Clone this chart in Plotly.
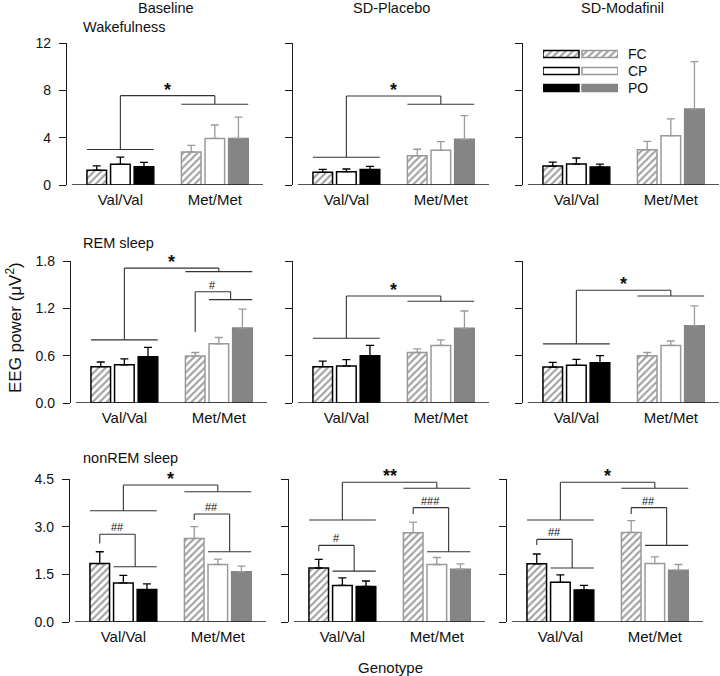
import plotly.graph_objects as go

W, H = 720, 676
FONT = "Liberation Sans, Arial, sans-serif"

# ---------------- data ----------------
COLUMN_TITLES = ["Baseline", "SD-Placebo", "SD-Modafinil"]
ROW_TITLES = ["Wakefulness", "REM sleep", "nonREM sleep"]
GENOTYPES = ["Val/Val", "Met/Met"]
REGIONS = ["FC", "CP", "PO"]

# order inside each list: Val/Val FC, CP, PO, Met/Met FC, CP, PO
wake_baseline_mean = [1.25, 1.75, 1.55, 2.79, 3.94, 3.94]
wake_baseline_sem = [0.36, 0.60, 0.37, 0.56, 1.13, 1.80]
wake_placebo_mean = [1.07, 1.13, 1.30, 2.48, 2.93, 3.86]
wake_placebo_sem = [0.25, 0.22, 0.28, 0.54, 0.73, 2.00]
wake_modafinil_mean = [1.60, 1.77, 1.52, 2.98, 4.17, 6.42]
wake_modafinil_sem = [0.34, 0.51, 0.25, 0.71, 1.41, 4.00]

rem_baseline_mean = [0.46, 0.485, 0.587, 0.595, 0.75, 0.95]
rem_baseline_sem = [0.06, 0.075, 0.118, 0.045, 0.08, 0.24]
rem_placebo_mean = [0.46, 0.47, 0.60, 0.64, 0.73, 0.946]
rem_placebo_sem = [0.07, 0.08, 0.13, 0.045, 0.07, 0.22]
rem_modafinil_mean = [0.456, 0.477, 0.51, 0.60, 0.73, 0.98]
rem_modafinil_sem = [0.06, 0.076, 0.09, 0.04, 0.056, 0.25]

nrem_baseline_mean = [1.84, 1.23, 1.02, 2.63, 1.81, 1.58]
nrem_baseline_sem = [0.37, 0.24, 0.18, 0.37, 0.17, 0.18]
nrem_placebo_mean = [1.70, 1.15, 1.12, 2.81, 1.81, 1.66]
nrem_placebo_sem = [0.27, 0.24, 0.17, 0.33, 0.22, 0.17]
nrem_modafinil_mean = [1.83, 1.25, 1.01, 2.82, 1.84, 1.63]
nrem_modafinil_sem = [0.31, 0.23, 0.14, 0.37, 0.21, 0.18]

Y_MAX = [12, 1.8, 4.5]
Y_TICKS = [[0, 4, 8, 12], [0, 0.6, 1.2, 1.8], [0, 1.5, 3.0, 4.5]]
Y_TICKFORMAT = ["d", ".1f", ".1f"]

# genotype brackets: [Val line level, top level, Met line level, label]
geno_wake_baseline = [3.0, 7.55, 6.82, "*"]
geno_wake_placebo = [2.34, 7.52, 6.82, "*"]
geno_wake_modafinil = None
geno_rem_baseline = [0.80, 1.71, 1.665, "*"]
geno_rem_placebo = [0.82, 1.356, 1.29, "*"]
geno_rem_modafinil = [0.75, 1.43, 1.356, "*"]
geno_nrem_baseline = [3.5, 4.31, 4.10, "*"]
geno_nrem_placebo = [3.21, 4.40, 4.21, "**"]
geno_nrem_modafinil = [3.21, 4.40, 4.21, "*"]

# region brackets (FC vs CP+PO): [genotype index, start, top, line level, label]
reg_rem_baseline = [[1, 0.90, 1.41, 1.31, "#"]]
reg_nrem_baseline = [[0, 2.47, 2.76, 1.74, "##"], [1, 3.21, 3.40, 2.21, "##"]]
reg_nrem_placebo = [[0, 2.23, 2.41, 1.60, "#"], [1, 3.40, 3.60, 2.21, "###"]]
reg_nrem_modafinil = [[0, 2.42, 2.60, 1.70, "##"], [1, 3.40, 3.60, 2.41, "##"]]

PANEL_MEANS = [[wake_baseline_mean, wake_placebo_mean, wake_modafinil_mean],
               [rem_baseline_mean, rem_placebo_mean, rem_modafinil_mean],
               [nrem_baseline_mean, nrem_placebo_mean, nrem_modafinil_mean]]
PANEL_SEMS = [[wake_baseline_sem, wake_placebo_sem, wake_modafinil_sem],
              [rem_baseline_sem, rem_placebo_sem, rem_modafinil_sem],
              [nrem_baseline_sem, nrem_placebo_sem, nrem_modafinil_sem]]
PANEL_GENO = [[geno_wake_baseline, geno_wake_placebo, geno_wake_modafinil],
              [geno_rem_baseline, geno_rem_placebo, geno_rem_modafinil],
              [geno_nrem_baseline, geno_nrem_placebo, geno_nrem_modafinil]]
PANEL_REG = [[[], [], []],
             [reg_rem_baseline, [], []],
             [reg_nrem_baseline, reg_nrem_placebo, reg_nrem_modafinil]]

# ---------------- layout geometry (px) ----------------
GROUP_POS = [[0, 1, 2], [4, 5, 6]]
BAR_WIDTH = 0.83
HALF = BAR_WIDTH / 2
X_RANGE = [-1.26, 7.04]
X_BASE_START = -1.05
PANEL_W = 196
AXIS_X = [[67, 293, 523], [71, 293, 523], [70, 289, 507]]
ROW_TOP = [43, 261, 479]
ROW_BOTTOM = [185, 403, 622]

AX_COLOR = "#1a1a1a"
BR_COLOR = "#333333"
GRAY_LINE = "#9a9a9a"
GRAY_FILL = "#858585"

VAL_FILL = ["white", "white", "black"]
VAL_LINE = ["black", "black", "black"]
MET_FILL = ["white", "white", GRAY_FILL]
MET_LINE = [GRAY_LINE, GRAY_LINE, GRAY_FILL]
PATTERN = ["/", "", ""]


def px_x(p):
    return p / W


def px_y(p):
    return 1 - p / H


fig = go.Figure()
shapes = []
annotations = []
layout = {}


def suffix(k):
    return "" if k == 1 else str(k)


def add_line(k, x0, y0, x1, y1, color=BR_COLOR, width=1.1):
    shapes.append(dict(type="line", xref="x" + suffix(k), yref="y" + suffix(k),
                       x0=x0, y0=y0, x1=x1, y1=y1, layer="above",
                       line=dict(color=color, width=width)))


def add_label(k, x, y, text, size, yshift):
    annotations.append(dict(xref="x" + suffix(k), yref="y" + suffix(k), x=x, y=y,
                            text=text, showarrow=False, xanchor="center",
                            yanchor="middle", yshift=yshift,
                            font=dict(family=FONT, size=size, color="#111")))


for r in range(3):
    for c in range(3):
        k = r * 3 + c + 1
        s = suffix(k)
        x0 = AXIS_X[r][c]
        xd = [px_x(x0), min(1.0, px_x(x0 + PANEL_W))]
        yd = [px_y(ROW_BOTTOM[r]), px_y(ROW_TOP[r])]
        means = PANEL_MEANS[r][c]
        sems = PANEL_SEMS[r][c]
        for g, (fills, lines, fg, ecol) in enumerate(
                [(VAL_FILL, VAL_LINE, "black", "black"),
                 (MET_FILL, MET_LINE, GRAY_LINE, GRAY_LINE)]):
            fig.add_trace(go.Bar(
                x=GROUP_POS[g], y=means[g * 3:(g + 1) * 3], width=BAR_WIDTH,
                xaxis="x" + s, yaxis="y" + s, showlegend=False, hoverinfo="skip",
                marker=dict(color=fills, line=dict(color=lines, width=1.5),
                            pattern=dict(shape=PATTERN, fgcolor=fg, bgcolor="white",
                                         size=5, solidity=0.42)),
                error_y=dict(type="data", array=sems[g * 3:(g + 1) * 3],
                             arrayminus=[0, 0, 0], symmetric=False,
                             color=ecol, thickness=1.3, width=4),
            ))
        layout["xaxis" + s] = dict(
            domain=xd, range=X_RANGE, anchor="y" + s, showline=False,
            showgrid=False, zeroline=False, automargin=False,
            tickvals=[sum(gp) / 3 for gp in GROUP_POS], ticktext=GENOTYPES,
            ticks="outside", ticklen=1, tickcolor="rgba(0,0,0,0)",
            tickfont=dict(family=FONT, size=15, color="#111"),
        )
        layout["yaxis" + s] = dict(
            domain=yd, range=[0, Y_MAX[r]], anchor="x" + s, showline=True,
            linecolor=AX_COLOR, linewidth=1.3, showgrid=False, zeroline=False,
            automargin=False,
            ticks="outside", ticklen=7, tickwidth=1.3, tickcolor=AX_COLOR,
            tickvals=Y_TICKS[r], tickformat=Y_TICKFORMAT[r],
            showticklabels=(c == 0), ticklabelstandoff=5,
            tickfont=dict(family=FONT, size=14, color="#111"),
        )
        # baseline
        add_line(k, X_BASE_START, 0, X_RANGE[1], 0, color=AX_COLOR, width=1.3)
        # genotype bracket
        gb = PANEL_GENO[r][c]
        if gb:
            v, top, m, lab = gb
            vp, mp = GROUP_POS
            vc, mc = sum(vp) / 3, sum(mp) / 3
            add_line(k, vp[0] - HALF, v, vp[2] + HALF, v)
            add_line(k, vc, v, vc, top)
            add_line(k, vc, top, mc, top)
            add_line(k, mc, top, mc, m)
            add_line(k, mp[0] - HALF, m, mp[2] + HALF, m)
            add_label(k, (vc + mc) / 2, top, "<b>" + lab + "</b>", 18, 6)
        for gi, st, top, lvl, lab in PANEL_REG[r][c]:
            p = GROUP_POS[gi]
            mid = (p[1] + p[2]) / 2
            add_line(k, p[0], st, p[0], top)
            add_line(k, p[0], top, mid, top)
            add_line(k, mid, top, mid, lvl)
            add_line(k, p[1] - HALF, lvl, p[2] + HALF, lvl)
            add_label(k, (p[0] + mid) / 2, top, lab, 11, 7)

# ---------------- legend (swatches as bars on a hidden axis) ----------------
LEG_X = [543, 618]
LEG_Y = [45.5, 96.5]
SW_LEN = 36
SW_GAP = 3
fig.add_trace(go.Bar(
    y=[0, 1, 2], x=[SW_LEN] * 3, base=[0] * 3, orientation="h", width=0.4,
    xaxis="x10", yaxis="y10", showlegend=False, hoverinfo="skip",
    marker=dict(color=VAL_FILL, line=dict(color=VAL_LINE, width=1.5),
                pattern=dict(shape=PATTERN, fgcolor="black", bgcolor="white",
                             size=5, solidity=0.42))))
fig.add_trace(go.Bar(
    y=[0, 1, 2], x=[SW_LEN] * 3, base=[SW_LEN + SW_GAP] * 3, orientation="h", width=0.4,
    xaxis="x10", yaxis="y10", showlegend=False, hoverinfo="skip",
    marker=dict(color=MET_FILL, line=dict(color=MET_LINE, width=1.5),
                pattern=dict(shape=PATTERN, fgcolor=GRAY_LINE, bgcolor="white",
                             size=5, solidity=0.42))))
layout["xaxis10"] = dict(domain=[px_x(LEG_X[0]), px_x(LEG_X[1])], range=[0, 2 * SW_LEN + SW_GAP],
                         anchor="y10", visible=False, fixedrange=True, automargin=False)
layout["yaxis10"] = dict(domain=[px_y(LEG_Y[1]), px_y(LEG_Y[0])], range=[2.5, -0.5],
                         anchor="x10", visible=False, fixedrange=True, automargin=False)
for i, reg in enumerate(REGIONS):
    annotations.append(dict(xref="paper", yref="y10", x=px_x(626), y=i, text=reg,
                            showarrow=False, xanchor="left", yanchor="middle",
                            font=dict(family=FONT, size=14, color="#111")))

# ---------------- texts ----------------
for c, t in enumerate(COLUMN_TITLES):
    cx = AXIS_X[0][c] + PANEL_W / 2 + 1
    annotations.append(dict(xref="paper", yref="paper", x=px_x(cx), y=px_y(8), text=t,
                            showarrow=False, xanchor="center", yanchor="middle",
                            font=dict(family=FONT, size=14.5, color="#111")))
ROW_TITLE_Y = [27, 243, 458]
for r, t in enumerate(ROW_TITLES):
    annotations.append(dict(xref="paper", yref="paper", x=px_x(81), y=px_y(ROW_TITLE_Y[r]), text=t,
                            showarrow=False, xanchor="left", yanchor="middle",
                            font=dict(family=FONT, size=14.5, color="#111")))
annotations.append(dict(xref="paper", yref="paper", x=px_x(14), y=px_y(328),
                        text="EEG power (\u03bcV<sup>2</sup>)", textangle=-90,
                        showarrow=False, xanchor="center", yanchor="middle",
                        font=dict(family=FONT, size=17, color="#111")))
annotations.append(dict(xref="paper", yref="paper", x=px_x(390), y=px_y(667),
                        text="Genotype", showarrow=False, xanchor="center", yanchor="middle",
                        font=dict(family=FONT, size=15, color="#111")))

fig.update_layout(
    width=W, height=H, margin=dict(l=0, r=0, t=0, b=0, pad=0, autoexpand=False),
    paper_bgcolor="white", plot_bgcolor="white", barmode="overlay",
    shapes=shapes, annotations=annotations, showlegend=False, hovermode=False,
    **layout,
)
# the page's default 8px body margin would push the 720x676 figure off the window
fig.write_html("out.html", config={"displayModeBar": False},
               post_script="document.body.style.margin='0px';")
